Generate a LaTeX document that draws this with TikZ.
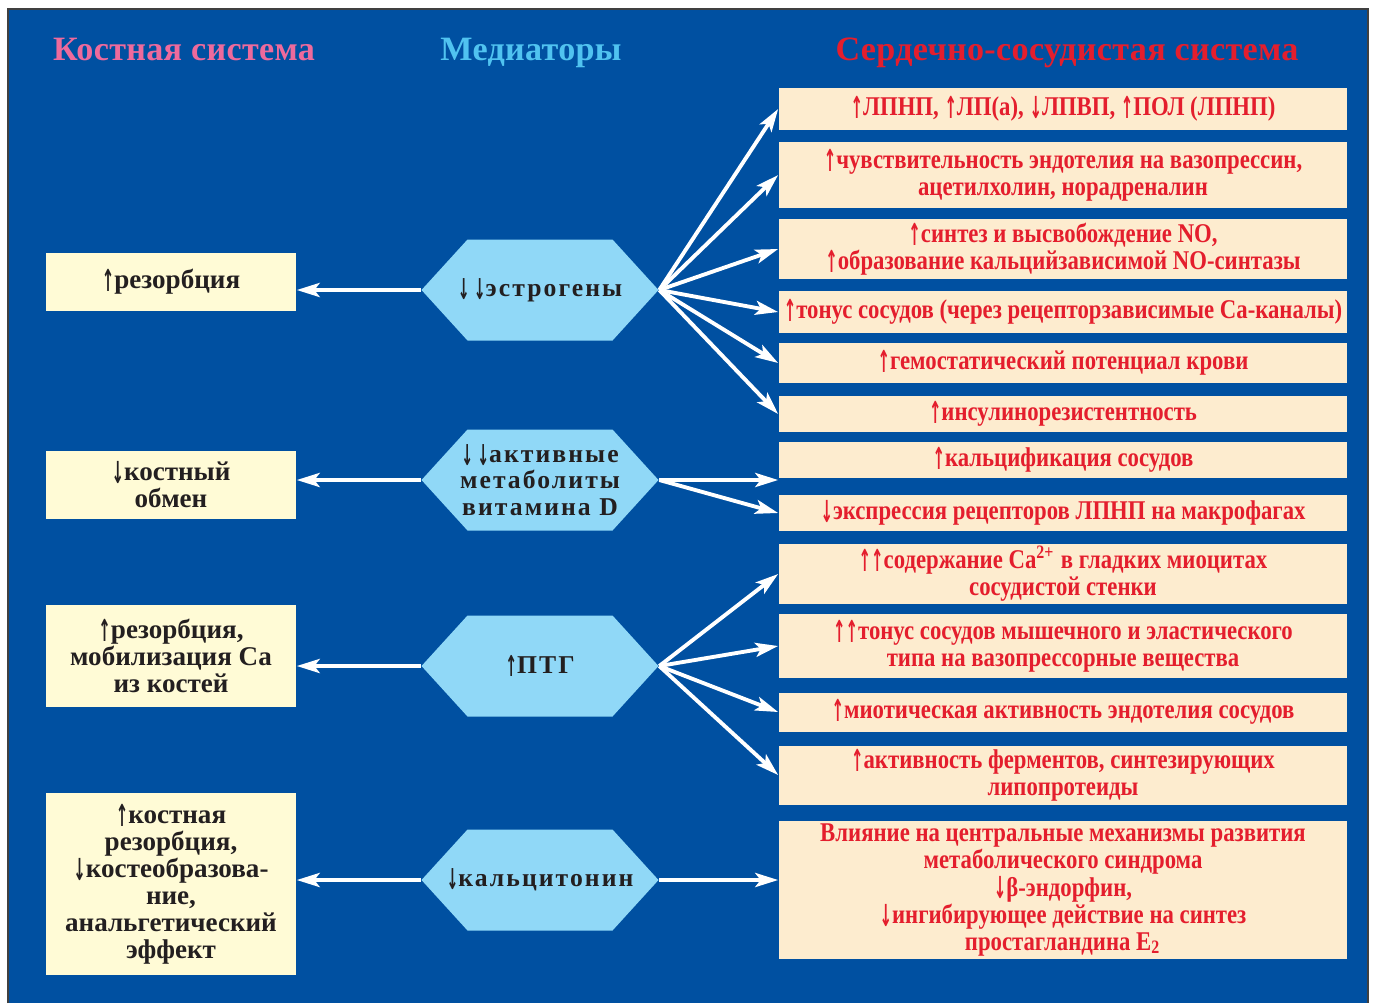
\documentclass[tikz,border=0pt]{standalone}
\usepackage{fontspec}
\setmainfont{Liberation Serif}
\newfontfamily\cvsfont{Liberation Serif}[FakeStretch=0.84]
\newfontfamily\medfont{Liberation Serif}[LetterSpace=8]
\newfontfamily\headfont{Liberation Serif}[LetterSpace=1]
\newfontfamily\arrowfont{DejaVu Sans}
\usetikzlibrary{positioning,arrows.meta}

\definecolor{bgblue}{RGB}{0,80,161}
\definecolor{bonefill}{RGB}{255,251,214}
\definecolor{cvsfill}{RGB}{253,236,207}
\definecolor{medfill}{RGB}{144,216,247}
\definecolor{cvsred}{RGB}{228,30,45}
\definecolor{bonepink}{RGB}{238,106,156}
\definecolor{medcyan}{RGB}{80,195,240}
\definecolor{txtblack}{RGB}{35,31,32}

\newcommand{\upar}{{\arrowfont\raisebox{-0.2ex}{\scalebox{0.55}[1.12]{\char"2191}}}}
\newcommand{\dnar}{{\arrowfont\raisebox{-0.2ex}{\scalebox{0.55}[1.12]{\char"2193}}}}
% hexagon of a mediator: name, y, text
\newcommand{\medhex}[3]{%
  \fill[medfill] (540,#2) +(-118.5,0) -- +(-72.5,-50.5) -- +(72.5,-50.5)
    -- +(118.5,0) -- +(72.5,50.5) -- +(-72.5,50.5) -- cycle;
  \node[med] (#1) at (540,#2) {#3};}

\tikzset{
  bone/.style={fill=bonefill, minimum width=2.5cm, inner sep=0pt, align=center,
    text=txtblack, font=\fontsize{7.7}{7.7}\selectfont\bfseries},
  cvs/.style={fill=cvsfill, minimum width=5.68cm, inner sep=0pt, align=center,
    text=cvsred, font=\cvsfont\fontsize{7.7}{7.7}\selectfont\bfseries},
  med/.style={minimum width=2.37cm, minimum height=1.01cm, inner sep=0pt, align=center,
    text=txtblack, font=\medfont\fontsize{7.3}{7.5}\selectfont\bfseries},
  head/.style={anchor=base, font=\headfont\fontsize{9.7}{9.7}\selectfont\bfseries},
  link/.style={white, line width=1.1pt, -{Stealth[length=6.5pt,width=4pt,inset=1.5pt]}}
}

\begin{document}
\begin{tikzpicture}[x=0.01cm, y=-0.01cm]
\useasboundingbox (0,0) rectangle (1374,1003);
\fill[white] (0,0) rectangle (1374,1003);
\fill[bgblue] (8,9) rectangle (1368,1003);
\draw[black!75, line width=0.5pt] (8,1003) -- (8,9) -- (1368,9) -- (1368,1003);

% column heads
\node[head, text=bonepink] (hbone) at (184,60) {Костная система};
\node[head, text=medcyan] (hmed) at (531,60) {Медиаторы};
\node[head, text=cvsred] (hcvs) at (1067,60) {Сердечно-сосудистая система};

% mediators
\medhex{estr}{290}{\dnar\,\dnar эстрогены}
\medhex{vitd}{480}{\dnar\,\dnar активные\\метаболиты\\витамина D}
\medhex{ptg}{666}{\upar ПТГ}
\medhex{calc}{880}{\dnar кальцитонин}

% bone system
\node[bone, minimum height=0.57cm] (res) at (171,282) {\upar резорбция};
\node[bone, minimum height=0.67cm] (obm) at (171,485) {\dnar костный\\обмен};
\node[bone, minimum height=1.02cm] (mob) at (171,656) {\upar резорбция,\\мобилизация Ca\\из костей};
\node[bone, minimum height=1.82cm] (ana) at (171,884)
  {\upar костная\\резорбция,\\\dnar костеобразова-\\ние,\\анальгетический\\эффект};

% cardiovascular system
\node[cvs, minimum height=0.42cm] (lip) at (1063,109) {\upar ЛПНП, \upar ЛП(а), \dnar ЛПВП, \upar ПОЛ (ЛПНП)};
\node[cvs, minimum height=0.65cm] (sens) at (1063,175) {\upar чувствительность эндотелия на вазопрессин,\\ацетилхолин, норадреналин};
\node[cvs, minimum height=0.59cm] (nosyn) at (1063,249) {\upar синтез и высвобождение NO,\\\upar образование кальцийзависимой NO-синтазы};
\node[cvs, minimum height=0.42cm] (ton) at (1063,312) {\upar тонус сосудов (через рецепторзависимые Ca-каналы)};
\node[cvs, minimum height=0.39cm] (gem) at (1063,363) {\upar гемостатический потенциал крови};
\node[cvs, minimum height=0.36cm] (ins) at (1063,414) {\upar инсулинорезистентность};
\node[cvs, minimum height=0.36cm] (calcif) at (1063,460) {\upar кальцификация сосудов};
\node[cvs, minimum height=0.36cm] (expr) at (1063,513) {\dnar экспрессия рецепторов ЛПНП на макрофагах};
\node[cvs, minimum height=0.60cm] (caso) at (1063,574) {\upar\upar содержание Ca\textsuperscript{2+} в гладких миоцитах\\сосудистой стенки};
\node[cvs, minimum height=0.64cm] (tonm) at (1063,646) {\upar\upar тонус сосудов мышечного и эластического\\типа на вазопрессорные вещества};
\node[cvs, minimum height=0.39cm] (mit) at (1063,712) {\upar миотическая активность эндотелия сосудов};
\node[cvs, minimum height=0.59cm] (ferm) at (1063,775) {\upar активность ферментов, синтезирующих\\липопротеиды};
\node[cvs, minimum height=1.37cm] (infl) at (1063,890) {Влияние на центральные механизмы развития\\метаболического синдрома\\\dnar β-эндорфин,\\\dnar ингибирующее действие на синтез\\простагландина E\textsubscript{2}};

% arrows to the bone system
\draw[link] (estr.west) -- (estr.west -| res.east);
\draw[link] (vitd.west) -- (vitd.west -| obm.east);
\draw[link] (ptg.west) -- (ptg.west -| mob.east);
\draw[link] (calc.west) -- (calc.west -| ana.east);

% arrows to the cardiovascular system
\foreach \t in {lip,sens,nosyn,ton,gem,ins}
  \draw[link] (estr.east) -- (\t.west);
\draw[link] (vitd.east) -- (vitd.east -| calcif.west);
\draw[link] (vitd.east) -- (expr.west);
\foreach \t in {caso,tonm,mit,ferm}
  \draw[link] (ptg.east) -- (\t.west);
\draw[link] (calc.east) -- (calc.east -| infl.west);
\end{tikzpicture}
\end{document}
